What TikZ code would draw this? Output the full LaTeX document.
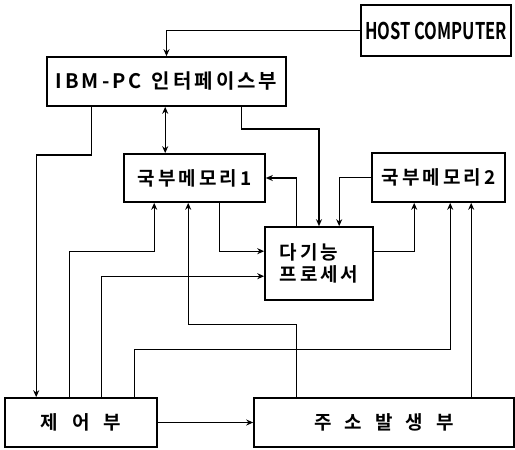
\documentclass[tikz,border=0pt]{standalone}
\usepackage{fontspec}
\setmainfont{Noto Sans CJK KR}[BoldFont={* Bold}]
\usetikzlibrary{arrows.meta,calc}
\newcommand{\lsp}{\hspace{3pt}}
\tikzset{
  box/.style={draw, line width=1.6pt, inner sep=0pt, font=\bfseries\fontsize{19}{23}\selectfont},
  conn/.style={line width=1.4pt, -{Stealth[length=7pt,width=6pt]}},
  conn2/.style={line width=1.4pt, {Stealth[length=7pt,width=6pt]}-{Stealth[length=7pt,width=6pt]}},
}
\begin{document}
\begin{tikzpicture}[x=1pt,y=-1pt]
\useasboundingbox (0,0) rectangle (515,450);
\node[box, minimum width=150pt, minimum height=51pt, font=\bfseries\fontsize{23}{26}\selectfont] (host) at (436,30.5) {\scalebox{0.72}[1]{HOST COMPUTER}};
\node[box, minimum width=239pt, minimum height=49pt, font=\bfseries\fontsize{20}{24}\selectfont] (ibm) at (166.5,81.5) {I\lsp B\lsp M\lsp -\lsp P\lsp C\hspace{10pt}인\lsp 터\lsp 페\lsp 이\lsp 스\lsp 부};
\node[box, minimum width=141pt, minimum height=48pt] (mem1) at (194.5,178) {국\lsp 부\lsp 메\lsp 모\lsp 리\lsp 1};
\node[box, minimum width=133pt, minimum height=49pt] (mem2) at (438.5,177.5) {국\lsp 부\lsp 메\lsp 모\lsp 리\lsp 2};
\node[box, minimum width=108pt, minimum height=73pt, align=left, font=\bfseries\fontsize{19}{22}\selectfont] (proc) at (319,263.5) {다\lsp 기\lsp 능\\프\lsp 로\lsp 세\lsp 서};
\node[box, minimum width=152pt, minimum height=49pt] (ctrl) at (81,422.5) {제\hspace{14pt}어\hspace{14pt}부};
\node[box, minimum width=260pt, minimum height=49pt] (addr) at (384,422.5) {주\hspace{13pt}소\hspace{13pt}발\hspace{13pt}생\hspace{13pt}부};

% host -> ibm
\draw[conn] (host.west) -| (ibm.north);
% ibm -> ctrl
\draw[conn] ($(ibm.south west)+(45,0)$) -- ++(0,48) -| ($(ctrl.north west)+(32,0)$);
% ibm <-> mem1
\coordinate (m1top) at ($(mem1.north west)+(42,0)$);
\draw[conn2] (ibm.south -| m1top) -- (m1top);
% ibm -> proc
\draw[conn] ($(ibm.south west)+(195,0)$) -- ++(0,22) -| (proc.north);
% proc -> mem1
\draw[conn] ($(proc.north west)+(32,0)$) |- (mem1.east);
% mem2 -> proc
\draw[conn] (mem2.west) -| ($(proc.north west)+(75,0)$);
% proc -> mem2
\draw[conn] ($(proc.north east)+(0,25)$) -| ($(mem2.south west)+(43,0)$);
% mem1 -> proc
\draw[conn] ($(mem1.south west)+(96,0)$) |- ($(proc.north west)+(0,25)$);
% ctrl -> mem1
\draw[conn] ($(ctrl.north west)+(65,0)$) -- ++(0,-146) -| ($(mem1.south west)+(31,0)$);
% ctrl -> proc
\draw[conn] ($(ctrl.north west)+(97,0)$) |- ($(proc.north west)+(0,50)$);
% ctrl -> mem2
\draw[conn] ($(ctrl.north west)+(130,0)$) -- ++(0,-48) -| ($(mem2.south west)+(79,0)$);
% addr -> mem1
\draw[conn] ($(addr.north west)+(43,0)$) -- ++(0,-73) -| ($(mem1.south west)+(65,0)$);
% addr -> mem2
\draw[conn] ($(addr.north west)+(218,0)$) -- ($(mem2.south west)+(100,0)$);
% ctrl -> addr
\draw[conn] (ctrl.east) -- (addr.west);
\end{tikzpicture}
\end{document}
